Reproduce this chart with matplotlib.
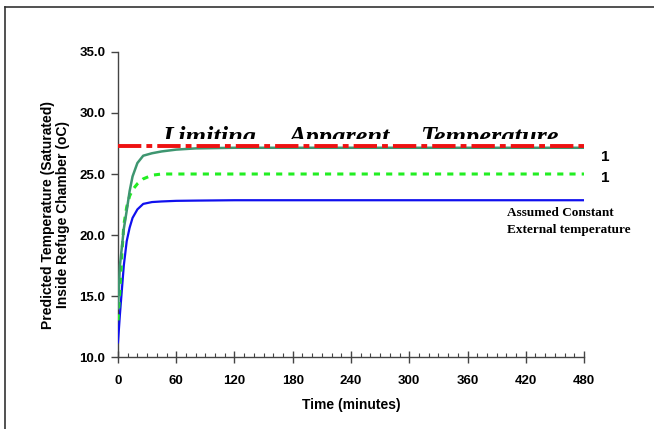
import matplotlib
matplotlib.use('Agg')
import matplotlib.pyplot as plt
from matplotlib.lines import Line2D
from matplotlib.patches import Rectangle
from matplotlib.ticker import MultipleLocator

# time in minutes
time = [0, 2, 4, 6, 9, 12, 15, 20, 26, 35, 45, 60, 80, 120, 240, 480]
temp_upper = [14.0, 17.5, 19.0, 20.5, 22.0, 23.6, 24.8, 25.9, 26.5, 26.7, 26.85,
              27.0, 27.1, 27.15, 27.15, 27.15]
temp_middle = [13.0, 15.5, 18.5, 20.8, 22.3, 23.2, 23.7, 24.2, 24.6, 24.9, 25.0,
               25.0, 25.0, 25.0, 25.0, 25.0]
temp_lower = [11.2, 13.5, 15.5, 17.5, 19.5, 20.6, 21.4, 22.1, 22.55, 22.7, 22.75,
              22.8, 22.82, 22.85, 22.85, 22.85]
limit_time = [0, 480]
limit_temp = [27.3, 27.3]

limit_words = ['Limiting', 'Apparent', 'Temperature']
limit_word_x = [46, 175, 311]

plt.rcParams['font.family'] = ['Liberation Sans', 'DejaVu Sans']

fig = plt.figure(figsize=(6.54, 4.29), dpi=100)
ax = fig.add_axes([0.1804, 0.1678, 0.7126, 0.711])

ax.plot(time, temp_lower, color='#1010EE', lw=1.6, zorder=3)
ax.plot(time, temp_middle, color='#22EE22', lw=2.2, dashes=(2, 2), zorder=3)
ax.plot(time, temp_upper, color='#3E9670', lw=1.8, zorder=3)
ax.plot(limit_time, limit_temp, color='#EE1111', lw=2.8,
        dashes=(6, 1.3, 1.5, 1.3), zorder=4)

clip = Rectangle((0, 27.83), 480, 10, transform=ax.transData)
for w, xw in zip(limit_words, limit_word_x):
    t = ax.text(xw, 27.5, w, fontsize=19, family='Liberation Serif',
                style='italic', fontweight='bold', ha='left', va='baseline',
                clip_on=True)
    t.set_clip_path(clip)

ax.text(497, 26.4, '1', fontsize=11, fontweight='bold', va='center', clip_on=False)
ax.text(497, 24.7, '1', fontsize=11, fontweight='bold', va='center', clip_on=False)
ax.text(401, 21.8, 'Assumed Constant', fontsize=9.5, family='Liberation Serif',
        fontweight='bold', va='center', clip_on=False)
ax.text(401, 20.4, 'External temperature', fontsize=9.5, family='Liberation Serif',
        fontweight='bold', va='center', clip_on=False)

ax.set_xlim(0, 480)
ax.set_ylim(10, 35)
ax.xaxis.set_major_locator(MultipleLocator(60))
ax.xaxis.set_minor_locator(MultipleLocator(10))
ax.yaxis.set_major_locator(MultipleLocator(5))
ax.yaxis.set_major_formatter(matplotlib.ticker.FormatStrFormatter('%.1f'))

for s in ['top', 'right']:
    ax.spines[s].set_visible(False)
for s in ['left', 'bottom']:
    ax.spines[s].set_color('#444444')
    ax.spines[s].set_linewidth(1.0)

ax.tick_params(axis='x', which='major', direction='inout', length=8, width=1,
               color='#444444', labelsize=9.5, pad=9)
ax.tick_params(axis='x', which='minor', direction='in', length=3, width=0.8,
               color='#444444')
ax.tick_params(axis='y', which='major', direction='out', length=5, width=1,
               color='#444444', labelsize=9.5, pad=4)
for lab in ax.get_xticklabels() + ax.get_yticklabels():
    lab.set_fontweight('bold')

ax.set_xlabel('Time (minutes)', fontsize=10, fontweight='bold', labelpad=8)
ax.set_ylabel('Predicted Temperature (Saturated)\nInside Refuge Chamber (oC)',
              fontsize=10, fontweight='bold', linespacing=1.1)
ax.yaxis.set_label_coords(-0.103, 0.466)

# outer frame (top and left edges only visible)
fig.add_artist(Line2D([4.5 / 654, 1], [1 - 6.5 / 429, 1 - 6.5 / 429],
                      transform=fig.transFigure, color='#333333', lw=1.2))
fig.add_artist(Line2D([4.5 / 654, 4.5 / 654], [1 - 6.5 / 429, 0],
                      transform=fig.transFigure, color='#333333', lw=1.2))

fig.savefig('out.png', dpi=100)
